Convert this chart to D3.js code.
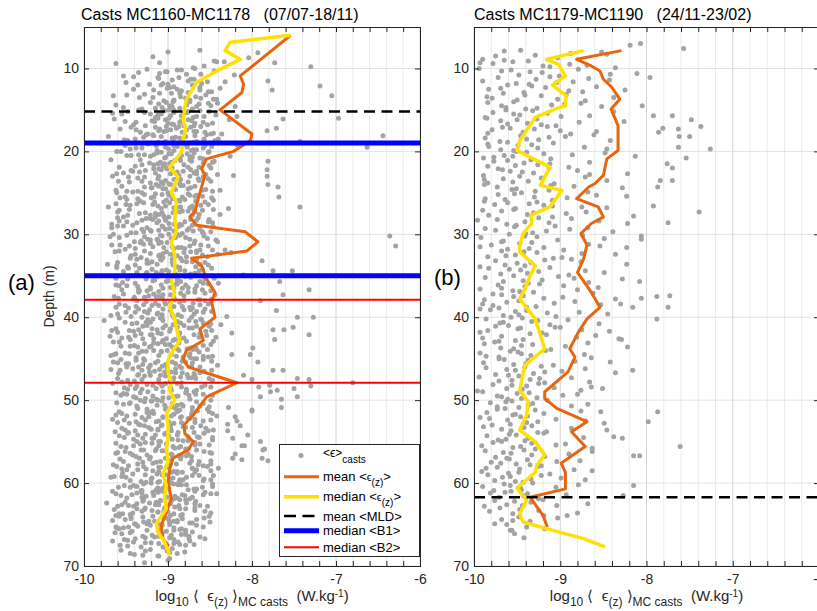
<!DOCTYPE html>
<html>
<head>
<meta charset="utf-8">
<script src="https://cdn.jsdelivr.net/npm/d3@7"></script>
<style>
  body { margin: 0; background: #fff; }
  svg { display: block; font-family: "Liberation Sans", Arial, Helvetica, sans-serif; }
</style>
</head>
<body>
<svg id="chart" width="817" height="611"></svg>
<script>
// ---- data ----
const epsDomain = [-10, -6];
const depthDomain = [5, 70];
const epsTicks = [-10, -9, -8, -7, -6];
const depthTicks = [10, 20, 30, 40, 50, 60, 70];

// scatter: [base depth, "fxxx ..."]  f = tenth of metre added to depth, xxx = -log10(eps)*100
const castsA = [
  [7, "8862"],
  [8, "0900 1793 7804 6918"],
  [9, "3773 3910 2833 2842 1845 9870 7857 8730 4962"],
  [10, "6910 0868 2889 5935 8821 4901 9953 3845 7878 1925 2884 7861 4903"],
  [11, "2911 5876 8860 0941 4895 6832 9922 3873 7950 1912 5781 9900 1887 6853 3869 8906"],
  [12, "1719 4901 7884 0936 3862 6917 8852 2893 5941 9876 0908 6776 4838 0871 5889 8848 3898 6862"],
  [13, "3705 0896 5918 8874 2949 6861 9905 1928 4885 7846 3965 0910 8893 5934 2855 6879 9893 4867 0886 7842"],
  [14, "1921 4878 7953 0894 3911 6866 9931 2852 5898 8915 0874 4962 7907 2841 6820 3863 8886 1902 5849 6895 9871"],
  [15, "0935 3893 6912 9870 2948 5921 8857 1904 4966 7884 0899 3928 6843 9915 2876 5955 8818 1862 4881 7897 2851 5908 8866 0893 3877"],
  [16, "0697 1763 3919 5886 8941 2903 6868 9927 4951 7895 0912 3872 5938 8853 1964 6900 9881 2827 2876 5858 8893 0899 3884 6847 9869 4916"],
  [17, "5782 2771 1915 4938 7883 0902 3957 6869 9924 2890 5911 8846 1944 4878 7933 0861 6905 9836 1873 4897 7856 0887 3910 6866 9849 5902"],
  [18, "1644 8743 0926 3891 6952 9870 2908 5939 8866 1917 4895 7948 0854 3929 6883 9911 2971 5840 2879 5857 8903 1868 4886 7844 0918 6894"],
  [19, "5663 3951 0893 3914 6938 9872 2951 5903 8866 1924 4889 7945 0912 3856 6931 9893 2818 8870 1881 4848 7899 0866 3893 6858 9913 5877"],
  [20, "5949 1908 4935 7871 0956 3899 6921 8862 2913 5944 9886 1852 4928 7903 0961 3877 6826 2869 5884 8904 0851 3896 6874 9858 4917"],
  [21, "2781 0933 3896 6917 9958 2872 5904 8939 1885 4922 7851 0968 3909 6931 9876 2845 5898 1892 4858 7906 0874 3847 6881 9863 5912"],
  [22, "2782 1911 4942 7866 0895 3927 6953 9887 2908 5934 8841 1917 4882 7961 0902 3944 6869 9822 2873 5889 8855 1901 4866 7897 0849 6915"],
  [23, "0782 1928 4891 7946 0874 3912 6959 9899 2936 5863 8921 1947 4885 7908 0966 3852 6931 9906 1858 4893 7876 0911 3864 6849 9886 5903"],
  [24, "0781 3769 2955 5903 8936 1882 4919 7962 0897 3928 6855 9942 2911 5876 8949 1893 4920 7838 2868 5906 8847 1885 4873 7859 0914 6891"],
  [25, "5768 0931 3874 6957 9902 2928 5883 8949 1915 4868 7936 0961 3899 6920 9846 2907 5951 8880 1876 4859 7895 0900 3866 6848 9887 5917"],
  [26, "7743 1916 4950 7889 0933 3962 6871 9908 2929 5945 8893 1856 4918 7971 0886 3937 6903 9828 2898 5861 8874 1905 4852 7885 0867 6912"],
  [27, "1958 4894 7921 0946 3868 6911 9953 2883 5934 8905 1869 4927 7948 0891 3960 6838 9915 2876 1859 4907 7871 0846 3886 6863 9899 5915"],
  [28, "0960 3903 6937 9871 2918 5949 8886 1926 4958 7899 0864 3931 6913 9942 2851 5880 8967 1921 2873 5852 8893 0904 3866 6847 9884 4911"],
  [29, "0960 2925 5877 8944 1906 4931 7859 0953 3898 6920 9883 2967 5911 8938 1846 4903 7929 6870 1888 4862 7849 0907 3875 6893 9858 5921"],
  [30, "2636 1949 4891 7912 0965 3928 6874 9940 2907 5853 8932 1886 4958 7921 0899 3969 6913 9841 2857 5896 8868 1909 4879 7843 0889 6924"],
  [31, "4629 1911 4946 7880 0933 3967 6905 9862 2929 5895 8951 1921 4874 7939 0908 3957 6888 9832 1869 4852 7893 0901 3861 6884 9847 5918"],
  [32, "1902 4939 7878 0958 3921 6889 9945 2866 5910 8932 1963 4897 7853 0928 3906 6944 9885 2825 2881 5859 8906 1873 4841 7892 0866 6911"],
  [33, "2788 1925 4960 7894 0937 3871 6913 9948 2883 5925 8961 1908 4856 7939 0895 3919 6972 9867 1866 4895 7852 0909 3878 6862 9889 5923"],
  [34, "4752 4775 1947 4880 7926 0961 3902 6937 9875 2919 5953 8891 1934 4863 7908 0948 3886 6925 9810 2859 5899 8873 1848 4907 7868 0886 6914"],
  [35, "7767 1913 4948 7885 0929 3962 6898 9939 2873 5916 8954 1901 4926 7862 0943 3889 6918 9840 1879 4856 7902 0867 3845 6889 9858 5916"],
  [36, "7732 2958 5906 8934 1879 4921 7955 0890 3936 6868 9911 2949 5883 8925 1962 4897 7935 0852 2866 5893 8849 1908 4876 7859 0889 6921"],
  [37, "3763 0935 3897 6928 9864 2953 5910 8941 1885 4923 7959 0876 3906 6940 9892 2917 5964 8848 1856 4881 7907 0868 3844 6893 9862 5914"],
  [38, "0790 1926 4958 7893 0937 3870 6911 9947 2886 5929 8962 1904 4852 7938 0881 3915 6951 9871 2897 5862 8874 1849 4903 7883 0856 6919"],
  [39, "2771 1922 4950 7888 0935 3866 6913 9944 2897 5924 8968 1881 4939 7907 0856 3928 6960 9830 1873 4858 7895 0906 3848 6869 9884 5912"],
  [40, "0746 0727 1958 4906 7937 0872 3924 6951 9894 2918 5867 8943 1909 4976 7885 0931 3860 6921 9837 2861 5889 8849 1907 4875 7858 0893 6926"],
  [41, "5775 5762 2751 1930 4962 7898 0925 3875 6946 9912 2889 5935 8960 1851 4919 7941 0881 3906 6967 9824 1866 4897 7855 0903 3871 6848 9886 5913"],
  [42, "7773 1732 1919 4947 7886 0932 3969 6902 9878 2939 5955 8894 1921 4863 7945 0908 3887 6930 9846 2854 5881 8906 1869 4843 7892 0862 6917"],
  [43, "7799 0958 3903 6936 9871 2928 5956 8889 1917 4940 7867 0965 3898 6922 9853 2912 5945 8877 1887 4858 7873 0907 3849 6895 9866 5920"],
  [44, "5802 5824 1931 4962 7890 0917 3951 6875 9938 2908 5964 8882 1926 4946 7858 0901 3935 6968 9873 2863 5896 8852 1908 4874 7847 0887 6911"],
  [45, "4793 4965 0929 3883 6950 9907 2938 5871 8921 1956 4895 7930 0868 3912 6947 9886 2928 5960 8841 1858 4879 7903 0866 3848 6891 9872 5915"],
  [46, "4775 4763 1923 4957 7891 0935 3968 6904 9877 2942 5916 8959 1884 4931 7862 0949 3910 6896 9935 2891 5857 8869 1901 4848 7883 0862 6922"],
  [47, "0810 5800 4746 5732 9680 1928 4960 7897 0936 3872 6948 9911 2885 5931 8955 1903 4867 7940 0921 3893 1868 4851 7894 0909 3876 6847 9884 5911"],
  [48, "6750 3730 4792 2779 8770 1945 4884 7931 0966 3907 6939 9878 2918 5952 8896 1925 4860 7948 0903 3937 2856 5897 8866 1908 4849 7878 0889 6914"],
  [49, "6746 6790 0778 9765 1933 4956 7899 0924 3867 6941 9914 2953 5888 8927 1962 4875 7938 0906 3949 6891 1879 4847 7906 0869 3858 6893 9874 5918"],
  [50, "9765 1919 4946 7882 0933 3961 6904 9871 2928 5953 8895 1920 4858 7937 0912 3945 6889 9828 2866 5884 8851 1907 4895 7862 0849 6913"],
  [51, "2800 3800 1925 4958 7893 0936 3871 6917 9949 2886 5925 8962 1903 4851 7939 0891 3918 6955 9842 1853 4889 7872 0902 3865 6847 9896 5921"],
  [52, "0820 5818 1931 4952 7884 0923 3966 6899 9935 2874 5911 8946 1885 4927 7960 0906 3868 6938 9829 2876 5858 8893 1906 4849 7868 0884 6914"],
  [53, "1814 7829 1928 4955 7896 0933 3871 6912 9947 2882 5920 8963 1908 4855 7939 0897 3923 6951 9869 1861 4897 7852 0907 3879 6846 9888 5912"],
  [54, "2805 6823 0948 3899 6930 9876 2915 5952 8888 1927 4865 7941 0903 3958 6917 9882 2936 5847 2889 5863 8847 1904 4876 7895 0857 6919"],
  [55, "0790 5812 5809 9785 0937 3902 6956 9879 2919 5941 8892 1927 4868 7950 0911 3933 6885 9914 2962 1868 4851 7887 0909 3862 6894 9876 5911"],
  [56, "0787 5820 1903 4945 7878 0932 3960 6895 9921 2951 5876 8938 1915 4962 7887 0929 3850 6942 2857 5896 8872 1907 4848 7884 0866 6925"],
  [57, "0823 2812 0788 3781 7849 8965 1922 4953 7890 0934 3872 6918 9947 2896 5930 8864 1957 4909 7936 1885 4863 7897 0903 3849 6874 9858 5914"],
  [58, "1911 4949 7883 0961 3926 6893 9942 2871 5918 8954 1902 4936 7868 0929 3955 6889 9913 2840 2871 5849 8889 1909 4866 7896 0853 6911"],
  [59, "0927 3950 6886 9912 2964 5898 8932 1871 4919 7945 0903 3968 6882 9926 2955 5857 8910 1846 1863 4894 7858 0907 3878 6849 9887 5920"],
  [60, "1847 3941 6906 9932 2878 5959 8914 1893 4937 7866 0920 3952 6899 9931 2884 5945 8908 1929 2888 5859 8876 1903 4847 7869 0896 6912"],
  [61, "2931 5956 8889 1918 4943 7871 0907 3962 6926 9893 2937 5880 8949 1912 4858 7931 0966 3842 1856 4883 7901 0868 3849 6892 9874 5917"],
  [62, "5937 8960 1896 4922 7947 0879 3914 6955 9892 2930 5868 8941 1909 4973 7887 0929 3951 6915 2867 5897 8853 1909 4878 7862 0886 6911"],
  [63, "9962 2928 5900 8945 1886 4931 7954 0868 3919 6942 9897 2964 5912 8883 1937 4905 7958 0927 1879 4856 7893 0904 3868 6849 9885 5912"],
  [64, "7850 1944 4899 7929 0958 3883 6916 9940 2902 5966 8871 1930 4951 7889 0918 3944 6893 9925 2857 5889 8874 1907 4866 7898 0851 6923"],
  [65, "1921 4953 7893 0938 3962 5884 8943 1907 4961 7925 0898 3947 6911 9879 2936 5958 8902 1866 4893 7879 0909 3858 6886 9871"],
  [66, "1955 4911 7939 0963 3896 6927 9948 2884 5916 8952 1909 4930 7875 0945 3919 6898 2879 5862 8893 1907 4875 7856"],
  [67, "2927 5957 8902 1941 4886 7932 0966 3911 6948 9895 2920 5879 1888 4869 7906 0874 3893"],
  [68, "2927 5945 8911 1956 4898 7930 0921 3880 6940 2901 5889 8912"],
  [69, "1898 3900 6928"]
];

const castsB = [
  [7, "2819 0807 6757 9965 8946"],
  [8, "4929 3846 9990 5975 2888 7903 0852"],
  [9, "1937 4978 6869 8912 2955 5889 0965 9836 3993 7920"],
  [10, "0994 2957 5921 7842 3968 9901 1879 4935 6811 8948"],
  [11, "1972 3928 6885 8951 0912 5990 2867 9936 4843 7904 1796"],
  [12, "0961 3917 5983 7890 9942 2858 4969 6825 1933 8874"],
  [13, "2941 4985 7903 0966 9871 3922 5838 8950 1893 6979"],
  [14, "0954 3895 5968 8927 1984 4910 6852 9940 2876 7963 5805"],
  [15, "1932 3978 6947 8899 0963 4915 7866 9987 2838 5954 7792 7770"],
  [16, "1927 3969 6938 9905 0985 2950 5878 8922 4826 7961 2748"],
  [17, "0915 2958 4979 7943 9888 1967 3930 6858 8984 5900 2781 0737 3763 7786"],
  [18, "1946 4987 6925 9961 2894 5939 8970 0861 3913 7842 2762 2750"],
  [19, "1984 3949 6926 8969 0908 2933 5872 9954 4983 7846 5763 7726"],
  [20, "0951 3919 5965 8989 1939 4886 6955 9911 2848 7977 8754 6813"],
  [21, "0934 2977 5912 7952 9890 1961 4942 3866 6926 8984 5776"],
  [22, "1972 4958 6931 9989 0913 3880 5944 8866 2967 7822 0770"],
  [23, "0947 2922 4988 7955 9907 1871 3966 6937 8984 5846 5770 5784"],
  [24, "1911 3973 6956 8929 0988 2884 5951 7913 9868 4828 3787"],
  [25, "2972 0945 5930 7987 9909 3858 1953 6892 8964 4823"],
  [26, "1927 4976 6909 9952 0988 3936 7875 2961 5919 8846 6792"],
  [27, "2968 4931 7983 9909 0954 3870 6938 1990 5893 8815 3739"],
  [28, "0925 2973 5941 8962 1887 3996 6913 9951 4855 7822 6775"],
  [29, "1953 3987 6916 9940 0906 2868 5975 8932 4889 7839"],
  [30, "0959 2941 4992 7903 9968 1874 3927 5849 8966 6806 2806"],
  [31, "1947 3980 6919 8961 0933 2867 5993 7936 9896 4854 6823"],
  [32, "0968 2927 5952 7984 9908 1942 3875 6963 8898 4836"],
  [33, "2975 4934 7964 9993 1918 3876 5950 8941 0887 6823"],
  [34, "1983 3946 5925 8969 0912 2959 4871 7938 9890 6849"],
  [35, "0954 2987 5921 7966 9937 1902 3884 6943 8867 4828 7808"],
  [36, "1972 3941 6993 8955 0924 2896 5968 7880 9947 4856"],
  [37, "0931 2978 5954 7919 9988 1862 4943 6897 3968 8836 7806 4773 5788"],
  [38, "2962 4990 7928 9971 0948 3907 5853 8939 1883 6978 8816 8775 4830"],
  [39, "1981 3952 5915 8966 0993 2939 4878 7948 9905 6845"],
  [40, "0957 2986 5933 7970 9912 1944 3891 6966 8855 4926 2788"],
  [41, "1975 4949 6984 9921 0960 2906 5875 8993 3946 7843 2900"],
  [42, "0935 3968 5990 8952 1916 4881 7943 9971 2859 6832 7829"],
  [43, "2988 4945 7969 9911 0976 3932 5894 8954 1868 6822"],
  [44, "1958 3993 6934 8971 0917 2949 5872 7986 4945 9864"],
  [45, "0971 2937 5989 7954 9922 1965 3883 6940 8908 4842"],
  [46, "1986 4952 6918 9975 0941 3962 5898 8931 2871 7836 4816"],
  [47, "0960 2994 5935 7971 9918 1948 3887 6956 8866 4924"],
  [48, "1978 3939 6962 9996 0925 2956 4864 7944 5907 8876 6851"],
  [49, "0990 2950 5973 7927 9961 1936 4897 8945 3880 6968"],
  [50, "1956 3981 6937 8973 0915 2963 4932 7887 9948 5868"],
  [51, "0964 2929 5985 7952 9938 1973 3876 6919 8955 4853 4787"],
  [52, "1993 4961 6926 9958 0946 2982 5871 7939 3905 8849 6798"],
  [53, "0979 3942 5968 8916 1933 2989 4887 7957 9926 6846"],
  [54, "1959 3985 6937 8972 0919 2951 5873 7963 9941 4838 6828"],
  [55, "0968 2933 5991 7955 9929 1978 3894 6946 8863 4905 6761"],
  [56, "1987 4957 6933 9975 0942 3966 5890 8918 2863 7815 7808"],
  [57, "0962 2938 5980 7951 9922 1959 4904 6969 3877 8935"],
  [58, "1973 3947 6991 8960 0926 2986 4884 7948 9912 5863"],
  [59, "0984 2958 5934 7976 9943 1922 3967 6871 8952 4899"],
  [60, "1965 4990 6946 9977 0932 3958 5905 2879 8945 3815"],
  [61, "0957 2981 5943 7971 9925 1964 4893 3938 6827 5827"],
  [62, "1976 3934 6962 8988 0920 2953 5868 7944 7904"],
  [63, "0970 2947 4982 7955 9919 3925 6880 9892"],
  [64, "1948 4968 6935 9976 2903 5955"],
  [65, "0962 3939 7958 5918 7956"],
  [66, "1953 6942"]
];

// profiles: depth (m) and log10 eps
const meanADepth = [6.0, 10.9, 11.9, 12.9, 15.0, 17.9, 18.7, 20.0, 20.9, 22.1, 22.9, 25.7, 27.3, 27.9, 28.9, 29.7, 30.9, 32.0, 32.9, 33.8, 35.4, 37.0, 38.2, 40.0, 41.4, 42.8, 44.0, 45.0, 46.0, 47.9, 49.6, 51.8, 53.0, 54.0, 55.0, 56.0, 57.0, 58.3, 59.9, 61.9, 63.5, 65.1, 66.7, 67.6];
const meanAEps = [-7.54, -8.14, -8.10, -8.12, -8.38, -8.00, -8.02, -8.22, -8.54, -8.60, -8.56, -8.64, -8.68, -8.74, -8.66, -8.08, -7.93, -8.06, -8.72, -8.60, -8.54, -8.44, -8.48, -8.44, -8.62, -8.58, -8.78, -8.82, -8.76, -8.18, -8.54, -8.70, -8.81, -8.80, -8.70, -8.76, -8.94, -8.98, -9.00, -8.96, -9.02, -9.08, -9.06, -8.99];
const medianADepth = [6.0, 6.85, 7.85, 8.9, 10.3, 11.7, 13.7, 15.3, 16.1, 17.3, 18.5, 20.1, 21.9, 23.1, 24.9, 26.1, 28.1, 29.7, 31.0, 32.5, 34.6, 35.6, 37.0, 38.8, 40.2, 41.4, 42.8, 44.0, 45.2, 46.6, 47.8, 48.8, 50.0, 51.6, 53.0, 54.6, 55.8, 57.4, 58.9, 60.3, 61.7, 63.1, 64.9, 65.9, 67.1, 68.7];
const medianAEps = [-7.54, -8.26, -8.32, -8.14, -8.42, -8.66, -8.78, -8.81, -8.82, -8.79, -8.82, -8.84, -8.98, -8.88, -8.96, -8.90, -8.92, -8.90, -8.96, -8.92, -8.92, -8.96, -8.92, -8.98, -8.92, -8.90, -8.86, -8.94, -9.00, -9.00, -8.96, -8.98, -8.92, -9.02, -9.00, -9.00, -9.02, -9.00, -9.06, -9.02, -9.04, -9.02, -9.14, -9.12, -9.04, -8.98];

const meanBDepth = [7.85, 8.9, 9.7, 10.3, 11.3, 12.3, 13.7, 14.9, 16.9, 19.9, 20.9, 22.9, 23.9, 24.3, 25.7, 26.7, 27.9, 28.7, 29.9, 31.3, 33.0, 34.6, 37.0, 38.8, 40.2, 41.8, 43.8, 44.8, 46.6, 49.0, 49.8, 51.0, 52.6, 53.8, 55.6, 57.6, 58.7, 60.7, 61.7, 63.9, 65.3];
const meanBEps = [-8.29, -8.81, -8.64, -8.54, -8.50, -8.40, -8.31, -8.41, -8.33, -8.33, -8.46, -8.50, -8.60, -8.67, -8.81, -8.56, -8.50, -8.64, -8.76, -8.69, -8.73, -8.80, -8.64, -8.54, -8.69, -8.79, -8.89, -8.83, -8.91, -9.18, -9.18, -9.04, -8.69, -8.87, -8.71, -8.99, -8.94, -8.94, -9.35, -9.20, -9.15];
const medianBDepth = [7.85, 8.9, 9.5, 10.9, 12.0, 13.3, 14.5, 14.9, 15.9, 18.7, 19.9, 21.9, 24.1, 24.7, 26.7, 27.7, 28.7, 29.9, 31.5, 32.1, 33.8, 35.0, 36.6, 37.8, 40.2, 43.8, 45.8, 48.8, 50.2, 51.8, 53.6, 55.0, 56.6, 57.8, 58.7, 60.6, 62.1, 63.7, 64.7, 65.5, 66.7, 67.7];
const medianBEps = [-8.73, -9.16, -9.02, -8.94, -9.09, -8.93, -8.94, -9.06, -9.29, -9.47, -9.50, -9.12, -9.23, -8.98, -9.12, -9.34, -9.33, -9.43, -9.47, -9.47, -9.29, -9.35, -9.41, -9.47, -9.29, -9.18, -9.41, -9.47, -9.37, -9.39, -9.47, -9.29, -9.18, -9.27, -9.29, -9.50, -9.39, -9.47, -9.43, -9.16, -8.73, -8.48];

// horizontal reference depths
const mldA = [15.2], b1A = [19.0, 35.0], b2A = [37.9, 47.9];
const mldB = [61.7];

const colors = { casts: "#a3a3a3", mean: "#e8650f", median: "#ffe100", mld: "#000", b1: "#0000ff", b2: "#ff0000", axis: "#262626" };

// ---- helpers ----
function parseCasts(rows) {
  const pts = [];
  rows.forEach(([d, s]) => {
    s.trim().split(/\s+/).forEach(t => {
      pts.push({ depth: d + (+t[0]) / 10, eps: -(+t.slice(1)) / 100 });
    });
  });
  return pts;
}
const zip = (ds, es) => ds.map((d, i) => ({ depth: d, eps: es[i] }));

const svg = d3.select("#chart");
svg.append("rect").attr("width", 817).attr("height", 611).attr("fill", "#fff");

const plotTop = 27, plotBottom = 566;
const panels = [
  { left: 84, right: 420, casts: parseCasts(castsA), mean: zip(meanADepth, meanAEps), median: zip(medianADepth, medianAEps),
    mld: mldA, b1: b1A, b2: b2A, title: "Casts MC1160-MC1178\u00a0\u00a0\u00a0(07/07-18/11)", titleX: 81,
    tag: "(a)", tagX: 8, tagY: 290, ylabel: true, legend: true },
  { left: 474, right: 819, casts: parseCasts(castsB), mean: zip(meanBDepth, meanBEps), median: zip(medianBDepth, medianBEps),
    mld: mldB, b1: [], b2: [], title: "Casts MC1179-MC1190\u00a0\u00a0\u00a0(24/11-23/02)", titleX: 474,
    tag: "(b)", tagX: 434, tagY: 285, ylabel: false, legend: false }
];

const minorTicks = d3.range(21).map(i => +(epsDomain[0] + i * 0.2).toFixed(1));

panels.forEach(p => {
  const x = d3.scaleLinear().domain(epsDomain).range([p.left, p.right]);
  const y = d3.scaleLinear().domain(depthDomain).range([plotTop, plotBottom]);
  const g = svg.append("g");

  // grid
  g.selectAll(".vgrid").data(minorTicks).join("line")
    .attr("x1", d => x(d)).attr("x2", d => x(d)).attr("y1", plotTop).attr("y2", plotBottom)
    .attr("stroke", d => Number.isInteger(d) ? "#d4d4d4" : "#ebebeb").attr("stroke-width", 1);
  g.selectAll(".hgrid").data(depthTicks).join("line")
    .attr("x1", p.left).attr("x2", p.right).attr("y1", d => y(d)).attr("y2", d => y(d))
    .attr("stroke", "#e2e2e2").attr("stroke-width", 1);

  // scatter
  g.append("g").selectAll("circle").data(p.casts).join("circle")
    .attr("cx", d => x(d.eps)).attr("cy", d => y(d.depth)).attr("r", 2.5)
    .attr("fill", colors.casts);

  // profiles
  const line = d3.line().x(d => x(d.eps)).y(d => y(d.depth));
  g.append("path").datum(p.mean).attr("d", line)
    .attr("fill", "none").attr("stroke", colors.mean).attr("stroke-width", 3).attr("stroke-linejoin", "round");
  g.append("path").datum(p.median).attr("d", line)
    .attr("fill", "none").attr("stroke", colors.median).attr("stroke-width", 3.5).attr("stroke-linejoin", "round");

  // reference depths
  const hline = (vals, color, w, dash) => g.append("g").selectAll("line").data(vals).join("line")
    .attr("x1", p.left).attr("x2", p.right).attr("y1", d => y(d)).attr("y2", d => y(d))
    .attr("stroke", color).attr("stroke-width", w).attr("stroke-dasharray", dash || null);
  hline(p.mld, colors.mld, 2.5, "11,6.5");
  hline(p.b1, colors.b1, 5);
  hline(p.b2, colors.b2, 2);

  // axes
  const styleAxis = a => {
    a.select(".domain").remove();
    a.selectAll(".tick line").attr("stroke", colors.axis);
    a.selectAll(".tick text").attr("fill", colors.axis).attr("font-size", 14)
      .attr("font-family", "'Liberation Sans', Arial, sans-serif");
  };
  g.append("g").attr("transform", `translate(0,${plotBottom})`)
    .call(d3.axisBottom(x).tickValues(minorTicks).tickSize(-5).tickPadding(8)
      .tickFormat(d => Number.isInteger(d) ? String(d) : ""))
    .call(styleAxis);
  g.append("g").attr("transform", `translate(0,${plotTop})`)
    .call(d3.axisTop(x).tickValues(minorTicks).tickSize(-5).tickFormat(""))
    .call(styleAxis);
  g.append("g").attr("transform", `translate(${p.left},0)`)
    .call(d3.axisLeft(y).tickValues(depthTicks).tickSize(-5).tickPadding(5))
    .call(styleAxis);
  g.append("g").attr("transform", `translate(${p.right},0)`)
    .call(d3.axisRight(y).tickValues(depthTicks).tickSize(-5).tickFormat(""))
    .call(styleAxis);
  g.append("rect").attr("x", p.left + 0.5).attr("y", plotTop + 0.5)
    .attr("width", p.right - p.left).attr("height", plotBottom - plotTop)
    .attr("fill", "none").attr("stroke", colors.axis).attr("stroke-width", 1);

  // title
  g.append("text").attr("x", p.titleX).attr("y", 20).attr("font-size", 16).attr("fill", "#000")
    .text(p.title);

  // panel tag
  g.append("text").attr("x", p.tagX).attr("y", p.tagY).attr("font-size", 22).attr("fill", "#000").text(p.tag);

  // x label
  const cx = (p.left + p.right) / 2;
  const t = g.append("text").attr("x", cx).attr("y", 601).attr("text-anchor", "middle")
    .attr("font-size", 15).attr("fill", colors.axis);
  t.append("tspan").text("log");
  t.append("tspan").attr("font-size", 12).attr("dy", 5).text("10");
  t.append("tspan").attr("dy", -5).text("\u00a0\u27e8\u00a0\u00a0");
  t.append("tspan").text("\u03f5");
  t.append("tspan").attr("font-size", 12).attr("dy", 5).text("(z)");
  t.append("tspan").attr("dy", -5).text("\u00a0\u27e9");
  t.append("tspan").attr("font-size", 12).attr("dy", 5).text("MC casts");
  t.append("tspan").attr("dy", -5).text("\u00a0\u00a0(W.kg");
  t.append("tspan").attr("font-size", 10).attr("dy", -4).text("-1");
  t.append("tspan").attr("dy", 4).text(")");

  if (p.ylabel) {
    g.append("text").attr("transform", `translate(54,${(plotTop + plotBottom) / 2}) rotate(-90)`)
      .attr("text-anchor", "middle").attr("font-size", 14).attr("fill", colors.axis).text("Depth (m)");
  }

  if (p.legend) {
    const lg = g.append("g");
    lg.append("rect").attr("x", 279.5).attr("y", 444.5).attr("width", 140).attr("height", 112)
      .attr("fill", "#fff").attr("stroke", colors.axis).attr("stroke-width", 1);
    const lx0 = 284, lx1 = 319, tx = 323;
    lg.append("circle").attr("cx", 301).attr("cy", 455.5).attr("r", 2.5).attr("fill", colors.casts);
    const t0 = lg.append("text").attr("x", tx).attr("y", 457).attr("font-size", 12).attr("fill", "#000");
    t0.append("tspan").text("<\u03f5>");
    t0.append("tspan").attr("font-size", 10).attr("dy", 6).text("casts");
    const items = [
      { y: 476.7, color: colors.mean, w: 3, dash: null, label: "mean", eps: true },
      { y: 496.7, color: colors.median, w: 3.5, dash: null, label: "median", eps: true },
      { y: 516, color: colors.mld, w: 2.5, dash: "12,6.5", label: "mean <MLD>" },
      { y: 530.7, color: colors.b1, w: 5, dash: null, label: "median <B1>" },
      { y: 547.3, color: colors.b2, w: 2, dash: null, label: "median <B2>" }
    ];
    items.forEach(it => {
      lg.append("line").attr("x1", lx0).attr("x2", lx1).attr("y1", it.y).attr("y2", it.y)
        .attr("stroke", it.color).attr("stroke-width", it.w).attr("stroke-dasharray", it.dash);
      const tt = lg.append("text").attr("x", tx).attr("y", it.y + 4.5).attr("font-size", 13).attr("fill", "#000");
      if (it.eps) {
        tt.append("tspan").text(it.label + " <");
        tt.append("tspan").attr("font-size", 11).text("\u03f5");
        tt.append("tspan").attr("font-size", 10).attr("dy", 5).text("(z)");
        tt.append("tspan").attr("dy", -5).text(">");
      } else {
        tt.text(it.label);
      }
    });
  }
});
</script>
</body>
</html>
